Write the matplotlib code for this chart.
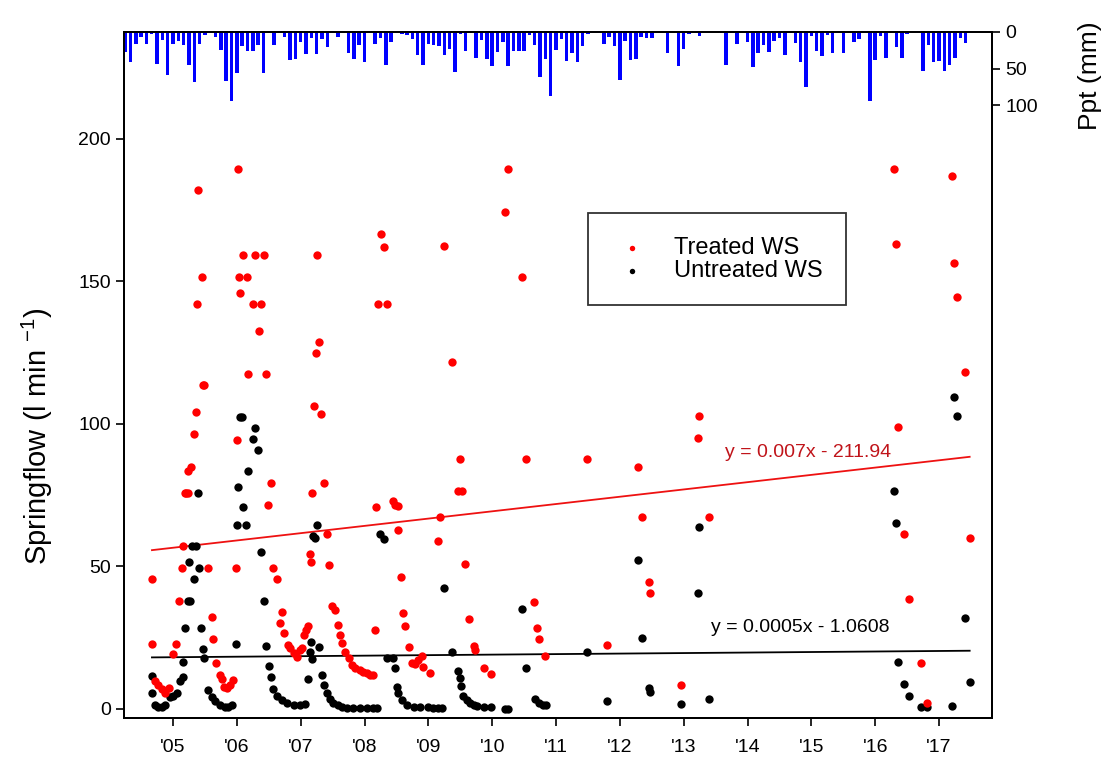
import matplotlib
matplotlib.use("Agg")
import matplotlib.pyplot as plt
import numpy as np

# springflow samples, decimal year vs l/min
treated_t = [2004.67, 2004.67, 2004.72, 2004.77, 2004.82, 2004.87, 2004.93, 2005.00, 2005.05, 2005.10,
             2005.14, 2005.16, 2005.19, 2005.21, 2005.23, 2005.24, 2005.28, 2005.33, 2005.36, 2005.38,
             2005.39, 2005.45, 2005.47, 2005.49, 2005.55, 2005.61, 2005.63, 2005.68, 2005.74, 2005.76,
             2005.80, 2005.84, 2005.89, 2005.94, 2005.98, 2006.00, 2006.02, 2006.03, 2006.05, 2006.10,
             2006.16, 2006.18, 2006.25, 2006.29, 2006.35, 2006.38, 2006.42, 2006.46, 2006.49, 2006.54,
             2006.56, 2006.63, 2006.67, 2006.71, 2006.74, 2006.80, 2006.84, 2006.90, 2006.94, 2006.99,
             2007.02, 2007.05, 2007.08, 2007.12, 2007.14, 2007.16, 2007.17, 2007.21, 2007.24, 2007.25,
             2007.29, 2007.32, 2007.37, 2007.41, 2007.45, 2007.49, 2007.54, 2007.58, 2007.61, 2007.64,
             2007.70, 2007.75, 2007.80, 2007.85, 2007.93, 2007.98, 2008.04, 2008.09, 2008.14, 2008.16,
             2008.18, 2008.21, 2008.26, 2008.30, 2008.36, 2008.45, 2008.48, 2008.52, 2008.53, 2008.57,
             2008.61, 2008.64, 2008.70, 2008.74, 2008.79, 2008.84, 2008.90, 2008.92, 2009.02, 2009.15,
             2009.18, 2009.25, 2009.37, 2009.46, 2009.50, 2009.52, 2009.58, 2009.63, 2009.71, 2009.73,
             2009.87, 2009.98, 2010.20, 2010.24, 2010.47, 2010.53, 2010.66, 2010.70, 2010.74, 2010.83,
             2011.49, 2011.80, 2012.28, 2012.35, 2012.45, 2012.48, 2012.96, 2013.22, 2013.24, 2013.39,
             2016.29, 2016.32, 2016.36, 2016.45, 2016.53, 2016.71, 2016.81, 2017.21, 2017.23, 2017.28,
             2017.40, 2017.48]
treated_q = [45.5, 22.8, 9.9, 8.4, 7.0, 5.6, 7.4, 19.2, 22.8, 37.9,
             49.4, 57.0, 75.9, 75.9, 75.9, 83.3, 85.0, 96.4, 104.1, 142.2,
             181.9, 151.6, 113.7, 113.7, 49.3, 32.4, 24.6, 16.0, 11.9, 10.4,
             7.8, 7.4, 8.4, 10.2, 49.3, 94.4, 189.5, 151.6, 145.8, 159.1,
             151.6, 117.4, 142.2, 159.1, 132.6, 142.2, 159.1, 117.4, 71.6, 79.2,
             49.4, 45.4, 30.0, 34.1, 26.5, 22.5, 21.3, 19.5, 18.3, 20.7,
             21.3, 26.0, 27.7, 29.1, 54.2, 51.7, 75.9, 106.1, 125.0, 159.1,
             128.8, 103.4, 79.2, 61.4, 50.4, 36.0, 34.7, 29.5, 26.0, 23.0,
             20.0, 17.8, 15.4, 14.3, 13.7, 13.1, 12.5, 11.9, 11.9, 27.7,
             71.0, 142.2, 166.7, 162.2, 142.2, 72.8, 71.6, 71.2, 62.8, 46.4,
             33.5, 29.0, 21.6, 16.0, 15.8, 17.0, 18.7, 14.7, 12.6, 59.0,
             67.2, 162.4, 121.6, 76.4, 87.8, 76.4, 51.0, 31.6, 22.0, 20.7,
             14.3, 12.3, 174.4, 189.5, 151.7, 87.8, 37.4, 28.4, 24.4, 18.7,
             87.8, 22.3, 84.8, 67.2, 44.4, 40.7, 8.4, 95.2, 102.9, 67.2,
             189.5, 163.0, 98.9, 61.4, 38.7, 16.0, 2.0, 187.1, 156.6, 144.6,
             118.1, 60.1]

untreated_t = [2004.67, 2004.67, 2004.72, 2004.77, 2004.82, 2004.87, 2004.95, 2005.00, 2005.06, 2005.11,
               2005.15, 2005.16, 2005.19, 2005.24, 2005.27, 2005.25, 2005.29, 2005.36, 2005.33, 2005.39,
               2005.41, 2005.44, 2005.47, 2005.49, 2005.55, 2005.61, 2005.66, 2005.74, 2005.82, 2005.86,
               2005.92, 2005.98, 2006.01, 2006.02, 2006.05, 2006.08, 2006.10, 2006.14, 2006.18, 2006.25,
               2006.29, 2006.33, 2006.38, 2006.42, 2006.46, 2006.51, 2006.54, 2006.57, 2006.63, 2006.70,
               2006.78, 2006.89, 2006.99, 2007.07, 2007.12, 2007.15, 2007.16, 2007.17, 2007.20, 2007.23,
               2007.25, 2007.29, 2007.33, 2007.37, 2007.41, 2007.46, 2007.51, 2007.58, 2007.64, 2007.72,
               2007.82, 2007.93, 2008.04, 2008.14, 2008.20, 2008.24, 2008.30, 2008.35, 2008.45, 2008.48,
               2008.51, 2008.53, 2008.58, 2008.66, 2008.77, 2008.87, 2009.00, 2009.08, 2009.15, 2009.22,
               2009.25, 2009.37, 2009.46, 2009.49, 2009.51, 2009.55, 2009.60, 2009.66, 2009.71, 2009.76,
               2009.87, 2009.98, 2010.20, 2010.24, 2010.47, 2010.53, 2010.67, 2010.73, 2010.80, 2010.85,
               2011.48, 2011.80, 2012.28, 2012.35, 2012.45, 2012.48, 2012.96, 2013.22, 2013.24, 2013.39,
               2016.29, 2016.32, 2016.36, 2016.45, 2016.53, 2016.71, 2016.81, 2017.21, 2017.23, 2017.28,
               2017.40, 2017.48]
untreated_q = [11.6, 5.7, 1.2, 0.8, 0.8, 1.2, 4.2, 4.5, 5.5, 9.6,
               11.3, 16.6, 28.3, 37.9, 37.9, 51.7, 57.0, 57.0, 45.5, 75.9,
               49.4, 28.3, 21.0, 17.8, 6.7, 4.3, 2.6, 1.4, 0.8, 0.8,
               1.2, 22.8, 64.6, 77.8, 102.3, 102.3, 71.0, 64.6, 83.3, 94.7,
               98.5, 91.0, 55.0, 37.9, 21.9, 15.1, 11.3, 6.9, 4.6, 3.2,
               2.0, 1.4, 1.4, 1.6, 10.4, 19.9, 23.3, 17.4, 60.5, 59.9,
               64.6, 21.6, 12.0, 8.5, 5.5, 3.3, 2.0, 1.2, 0.5, 0.2,
               0.2, 0.2, 0.2, 0.2, 0.2, 61.3, 59.5, 17.8, 17.8, 14.5,
               7.8, 5.5, 3.2, 1.4, 0.8, 0.5, 0.5, 0.3, 0.3, 0.3,
               42.4, 19.8, 13.3, 10.7, 8.0, 4.5, 3.0, 2.0, 1.5, 1.0,
               0.5, 0.5, 0.0, 0.0, 34.9, 14.3, 3.3, 2.0, 1.2, 1.2,
               19.8, 2.6, 52.4, 24.7, 7.3, 6.0, 1.6, 40.5, 63.9, 3.3,
               76.4, 65.2, 16.3, 8.6, 4.6, 0.5, 0.5, 1.0, 109.6, 102.9,
               31.8, 9.3]

# monthly precipitation (mm), starting April 2004
ppt_start = 2004.25
ppt_mm = [28, 41.6, 16.4, 7.3, 16.4, 2.7, 43.8, 10.5, 58.5, 16,
          11.9, 17.4, 45.2, 68, 16.4, 4.1, 2, 7.3, 24.2, 67,
          94, 56.2, 19, 26.5, 26.5, 17.8, 56, 1, 17.4, 0,
          7.3, 38.4, 36.5, 13.7, 30.1, 8.7, 30.1, 9.6, 21, 2,
          6.4, 0, 29.2, 36.5, 17.8, 41.6, 2, 16.4, 8.7, 45,
          13.7, 0, 2.7, 4.1, 9.6, 31.5, 45.2, 16.4, 17.8, 19,
          31.5, 22.8, 54.3, 2.7, 25.6, 0, 35.2, 10.5, 37.4, 46.6,
          26.9, 13.7, 46.6, 26.5, 25.6, 25.6, 4.1, 17.8, 62, 37.4,
          87, 24.2, 9.6, 40.2, 28.8, 41.6, 19, 2.7, 0, 2,
          16.4, 7.3, 19, 65.3, 11.9, 38.4, 36.5, 7.3, 8.7, 8.7,
          0, 0, 28.8, 0, 46.6, 22.8, 2.7, 0, 5, 0,
          0, 0, 2, 44.7, 2, 16.4, 0, 13.7, 48, 29.2,
          17.8, 27.9, 11.9, 8.7, 31.5, 0, 15.5, 40.6, 75.8, 5,
          25.6, 32.9, 4.1, 28.8, 2, 29.2, 0, 13.7, 9.6, 0,
          94, 38.8, 5, 35.2, 0, 21, 35.2, 2.7, 0, 2,
          53.4, 17.4, 41.6, 39.3, 53.4, 45.2, 35.2, 8.7, 15.5]

year_ticks = list(range(2005, 2018))
year_labels = ["'%02d" % (y % 100) for y in year_ticks]

# trend lines as printed on the chart (x = Excel date serial)
trend_treated = (0.007, -211.94)
trend_untreated = (0.0005, -1.0608)


def excel_serial(t):
    return 38353 + (np.asarray(t) - 2005) * 365.25


plt.rcParams["font.family"] = ["Liberation Sans", "DejaVu Sans"]
plt.rcParams["mathtext.fontset"] = "custom"
plt.rcParams["mathtext.rm"] = "Liberation Sans"
plt.rcParams["mathtext.it"] = "Liberation Sans:italic"

fig = plt.figure(figsize=(11.09, 7.60), dpi=100)
ax = fig.add_axes([0.1118, 0.0553, 0.7827, 0.9026])

ax.scatter(untreated_t, untreated_q, marker="o", s=36, color="black",
           linewidths=0, zorder=3, label="Untreated WS")
ax.scatter(treated_t, treated_q, marker="o", s=36, color="red",
           linewidths=0, zorder=3, label="Treated WS")

t_line = np.array([min(treated_t), max(treated_t)])
m, b = trend_treated
ax.plot(t_line, m * excel_serial(t_line) + b, color="#ee1111", lw=1.3, zorder=2)
m, b = trend_untreated
ax.plot(t_line, m * excel_serial(t_line) + b, color="black", lw=1.3, zorder=2)

ax.text(2014.95, 89.8, "y = 0.007x - 211.94", color="#c0141a", fontsize=14,
        ha="center", va="center")
ax.text(2014.83, 28.4, "y = 0.0005x - 1.0608", color="black", fontsize=14,
        ha="center", va="center")

ax.set_xlim(2004.232, 2017.83)
ax.set_ylim(-3.2, 237.5)
ax.set_xticks(year_ticks)
ax.set_xticklabels(year_labels)
ax.set_yticks([0, 50, 100, 150, 200])
ax.tick_params(axis="both", labelsize=14, length=6, width=1.2, direction="out")
ax.tick_params(axis="x", pad=9)
for sp in ax.spines.values():
    sp.set_linewidth(1.4)

handles, labels = ax.get_legend_handles_labels()
leg = ax.legend(handles[::-1], labels[::-1], loc="upper left",
                bbox_to_anchor=(0.5346, 0.736), fontsize=17, frameon=True,
                fancybox=False, edgecolor="black", borderpad=1.0,
                handlelength=1.75, handletextpad=0.9, labelspacing=0.05,
                markerscale=0.65, borderaxespad=0)
leg.get_frame().set_linewidth(1.3)

ax2 = ax.twinx()
ppt_x = ppt_start + np.arange(len(ppt_mm)) / 12
ax2.bar(ppt_x, ppt_mm, width=0.055, color="#0000ff", align="center")
ax2.set_ylim(938, 0)
ax2.set_yticks([0, 50, 100])
ax2.tick_params(axis="y", labelsize=14, length=6, width=1.2)
for sp in ax2.spines.values():
    sp.set_linewidth(1.4)

fig.text(37 / 1109, 1 - 436 / 760, "Springflow (l min $^{-1}$)", rotation=90,
         fontsize=21, ha="center", va="center")
fig.text(1090 / 1109, 1 - 76 / 760, "Ppt (mm)", rotation=90,
         fontsize=19, ha="center", va="center")

fig.savefig("out.png", dpi=100)
